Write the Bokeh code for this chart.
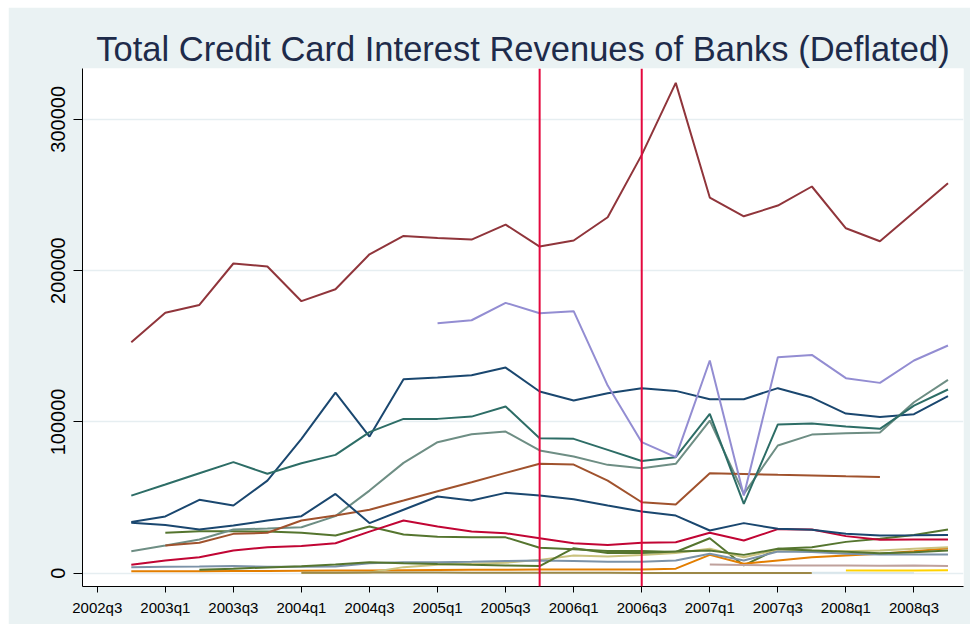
import numpy as np
from bokeh.plotting import figure
from bokeh.models import Range1d, FixedTicker, Span, ColumnDataSource
from bokeh.embed import file_html
from bokeh.resources import INLINE

# ---------------- data ----------------
START_YEAR, START_Q = 2002, 4
N = 25
TICK_LABELS = ["2002q3", "2003q1", "2003q3", "2004q1", "2004q3", "2005q1", "2005q3",
               "2006q1", "2006q3", "2007q1", "2007q3", "2008q1", "2008q3"]
EVENT_QUARTERS = ["2005q4", "2006q3"]

_ = None
bank_maroon = [152700, 172100, 177300, 204700, 202700, 179800, 187700, 210800, 222900, 221600,
               220500, 230400, 215900, 219900, 235300, 276500, 324100, 248300, 235900, 243000,
               255600, 228000, 219400, 238600, 257800]
bank_lavender = [_, _, _, _, _, _, _, _, _, 165200, 167200, 178700, 171800, 173200, 124000,
                 86600, 76700, 140600, 51300, 142800, 144300, 128900, 125800, 140600, 150500]
bank_navy1 = [33900, 37500, 48500, 44700, 61200, 88800, 119400, 90300, 128200, 129300, 130900,
              135900, 120100, 114100, 119000, 122300, 120500, 115000, 115000, 122300, 116100,
              105500, 103300, 105100, 117000]
bank_emerald = [51300, 58600, 66100, 73400, 65700, 72700, 78200, 93200, 102000, 102000, 103500,
                110200, 89200, 88800, 81500, 74200, 76700, 105300, 45800, 98300, 98900, 96900,
                95400, 110800, 121400]
bank_teal = [14500, 18300, 22300, 28900, 29500, 30400, 37700, 54600, 72900, 86600, 91900, 93600,
             81100, 77100, 71600, 69400, 72300, 100900, 52400, 84400, 91600, 92500, 93000,
             113000, 127800]
bank_sienna = [_, 18300, 20100, 26000, 26700, 34800, 38100, 41900, 48000, 54200, 60100, 66300,
               72300, 71800, 61200, 46900, 45400, 66100, 65600, 65000, 64600, 64000, 63500, _, _]
bank_navy2 = [33300, 31900, 28900, 31500, 34800, 37700, 52400, 33100, 41900, 50700, 48000, 53100,
              51300, 48900, 44700, 40800, 38100, 28200, 33100, 29300, 28700, 26000, 24900, 25000,
              25200]
bank_cranberry = [5500, 8400, 10600, 15000, 17200, 17900, 19800, 27500, 34800, 30800, 27500,
                  26400, 23100, 19800, 18700, 20100, 20500, 26700, 21600, 29100, 28900, 24500,
                  22100, 22300, 22300]
bank_green1 = [_, 26700, 27800, 27800, 27500, 26700, 24900, 30800, 25600, 24100, 23800, 23700,
               16800, 15900, 14600, 14600, 14000, 23100, 5100, 16100, 17200, 20700, 22800,
               25200, 28900]
bank_green2 = [_, _, 2300, 3000, 3800, 4600, 5700, 7300, 6600, 6000, 5500, 5100, 4700, 16500,
               13400, 13400, 14300, 15000, 12100, 16100, 15000, 14200, 13200, 13900, 15000]
bank_emidblue = [4000, 4200, 4400, 4700, 4200, 4200, 4400, 6600, 7300, 7300, 7500, 8000, 8400,
                 8000, 7600, 7600, 8400, 12800, 8400, 14300, 14000, 12800, 12300, 12300, 12300]
bank_dkorange = [1300, 1300, 1300, 1400, 1500, 1600, 1700, 1800, 2000, 2100, 2200, 2300, 2400,
                 2400, 2500, 2500, 3000, 12100, 6200, 8400, 10600, 11700, 12800, 14500, 16500]
bank_khaki = [_, _, _, _, _, 300, 300, 500, 4000, 5500, 6200, 6900, 8800, 11700, 11000, 12100,
              13400, 16100, 10500, 15500, 15000, 14500, 15000, 16100, 17200]
bank_brown = [_, _, _, _, _, 300, 300, 400, 400, 400, 300, 300, 300, 300, 300, 200, 200, 200,
              200, 200, 200, _, _, _, _]
bank_erose = [_, _, _, _, _, _, _, _, _, _, _, _, _, _, _, _, _, 5700, 5400, 5100, 5100, 5000,
              4900, 5000, 4700]
bank_gold = [_, _, _, _, _, _, _, _, _, _, _, _, _, _, _, _, _, _, _, _, _, 1800, 1800, 1800, 1900]
bank_bluishgray = [_, _, _, _, _, _, _, _, _, _, _, _, _, _, _, _, _, _, _, _, 300, 300, 200,
                   200, _]

SERIES = [
    (bank_navy1, "#1A476F"),
    (bank_maroon, "#90353B"),
    (bank_green1, "#55752F"),
    (bank_dkorange, "#E37E00"),
    (bank_teal, "#6E8E84"),
    (bank_cranberry, "#C10534"),
    (bank_khaki, "#CAC27E"),
    (bank_sienna, "#A0522D"),
    (bank_emidblue, "#7B92A8"),
    (bank_brown, "#9C8847"),
    (bank_erose, "#BFA19C"),
    (bank_gold, "#FFD200"),
    (bank_bluishgray, "#D9E6EB"),
    (bank_navy2, "#1A476F"),
    (bank_green2, "#55752F"),
    (bank_emerald, "#2D6D66"),
    (bank_lavender, "#938DD2"),
]


def qindex(label):
    """quarters since 2002q3"""
    y, q = label.split("q")
    return (int(y) - 2002) * 4 + (int(q) - 3)


quarters = []
y, q = START_YEAR, START_Q
for i in range(N):
    quarters.append(f"{y}q{q}")
    q += 1
    if q > 4:
        q, y = 1, y + 1
xs = [qindex(lbl) for lbl in quarters]

# ---------------- figure ----------------
BG = "#EAF2F3"
p = figure(width=962, height=617, output_backend="svg", toolbar_location=None,
           x_range=Range1d(-0.434, 25.456), y_range=Range1d(-8800, 333600),
           min_border_left=74, min_border_right=7, min_border_top=61, min_border_bottom=38,
           border_fill_color=BG, background_fill_color="white", outline_line_color=None,
           margin=(7, 4, 6, 8))

p.title.text = "Total Credit Card Interest Revenues of Banks (Deflated)"
p.title.align = "center"
p.title.text_font = "Liberation Sans"
p.title.text_font_size = "34.5px"
p.title.text_font_style = "normal"
p.title.text_color = "#1E2B4A"
p.title.standoff = 2

for vals, col in SERIES:
    arr = np.array([np.nan if v is None else v for v in vals], dtype=float)
    src = ColumnDataSource(dict(x=xs, y=arr))
    p.line("x", "y", source=src, line_color=col, line_width=2)

for lbl in EVENT_QUARTERS:
    p.add_layout(Span(location=qindex(lbl), dimension="height", line_color="#E4083E",
                      line_width=2))

tick_pos = [qindex(t) for t in TICK_LABELS]
p.xaxis.ticker = FixedTicker(ticks=tick_pos)
p.xaxis.major_label_overrides = {t: l for t, l in zip(tick_pos, TICK_LABELS)}
p.xaxis.minor_tick_line_color = None
p.xaxis.major_tick_out = 6
p.xaxis.major_tick_in = 0
p.xaxis.axis_line_color = "black"
p.xaxis.major_tick_line_color = "black"
p.xaxis.major_label_text_font = "Liberation Sans"
p.xaxis.major_label_text_font_size = "15px"
p.xaxis.major_label_text_color = "black"
p.xaxis.major_label_standoff = 6
p.xgrid.grid_line_color = None

p.yaxis.ticker = FixedTicker(ticks=[0, 100000, 200000, 300000])
p.yaxis.major_label_orientation = "vertical"
p.yaxis.minor_tick_line_color = None
p.yaxis.major_tick_out = 9
p.yaxis.major_tick_in = 0
p.yaxis.axis_line_color = "black"
p.yaxis.major_tick_line_color = "black"
p.yaxis.major_label_text_font = "Liberation Sans"
p.yaxis.major_label_text_font_size = "20px"
p.yaxis.major_label_text_color = "black"
p.yaxis.major_label_standoff = 8
p.yaxis.formatter.use_scientific = False
p.ygrid.grid_line_color = "#E6EEF1"
p.ygrid.grid_line_width = 1.5

open("out.html", "w").write(file_html(p, INLINE))
